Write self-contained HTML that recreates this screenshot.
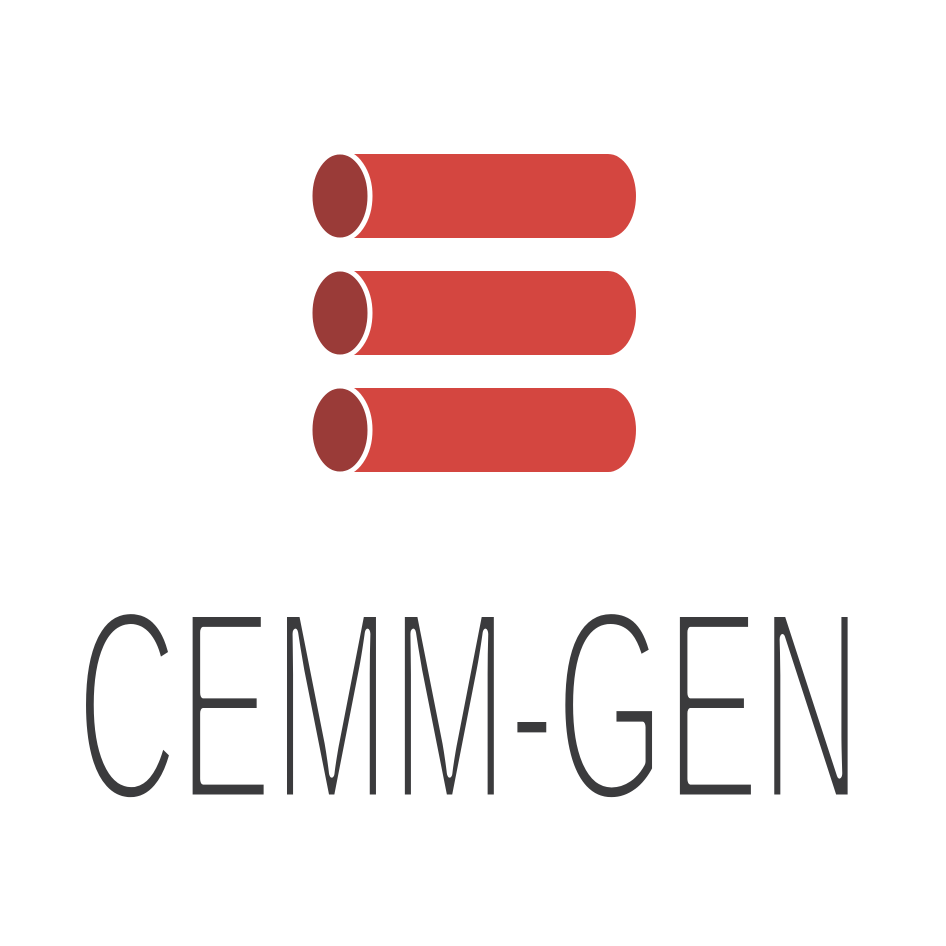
<!DOCTYPE html>
<html><head><meta charset="utf-8"><style>html,body{margin:0;padding:0;background:#fff}svg{display:block}</style></head>
<body>
<svg width="946" height="946" viewBox="0 0 946 946">
  <g>
    <path d="M340 154 H608 A28 42 0 0 1 608 238 H340 Z" fill="#d44640"/>
    <ellipse cx="340" cy="196" rx="30" ry="44" fill="#9a3b38" stroke="#fff" stroke-width="5"/>
  </g>
  <g>
    <path d="M340 271 H608 A28 42 0 0 1 608 355 H340 Z" fill="#d44640"/>
    <ellipse cx="340" cy="313" rx="30" ry="44" fill="#9a3b38" stroke="#fff" stroke-width="5"/>
  </g>
  <g>
    <path d="M340 388 H608 A28 42 0 0 1 608 472 H340 Z" fill="#d44640"/>
    <ellipse cx="340" cy="430" rx="30" ry="44" fill="#9a3b38" stroke="#fff" stroke-width="5"/>
  </g>
  <text x="76" y="800" font-family="'Liberation Sans',sans-serif" font-size="274" fill="#3b3b3d" stroke="#fff" stroke-width="11" stroke-linejoin="round" textLength="786" lengthAdjust="spacingAndGlyphs">CEMM-GEN</text>
</svg>
</body></html>
